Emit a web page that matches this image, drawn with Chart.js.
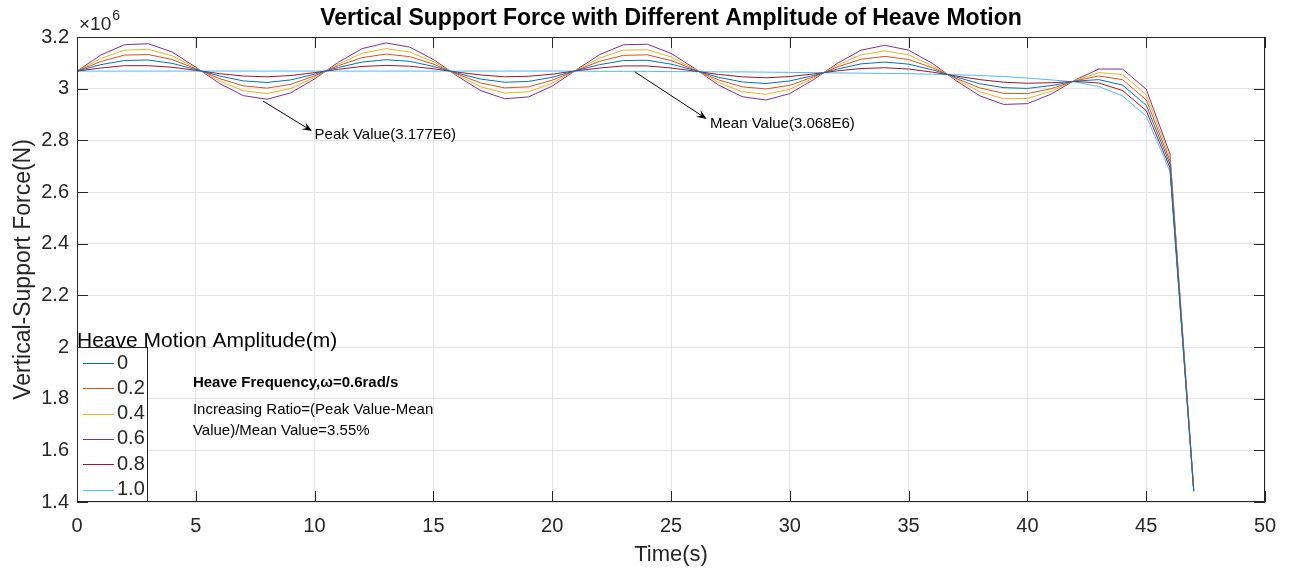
<!DOCTYPE html>
<html>
<head>
<meta charset="utf-8">
<title>Vertical Support Force</title>
<script src="https://cdn.jsdelivr.net/npm/chart.js@4.4.1/dist/chart.umd.min.js"></script>
<style>
  html, body { margin: 0; padding: 0; background: #fff; }
  #wrap { position: relative; width: 1291px; height: 569px; }
</style>
</head>
<body>
<div id="wrap"><canvas id="c" width="1291" height="569"></canvas></div>
<script>
// time samples (s)
const times = [0,1,2,3,4,5,6,7,8,9,10,11,12,13,14,15,16,17,18,19,20,21,22,23,
               24,25,26,27,28,29,30,31,32,33,34,35,36,37,38,39,40,41,42,43,44,45,46,47];

// vertical support force, x10^6 N
const force0 = [3.068,3.093,3.109,3.111,3.098,3.074,3.049,3.030,3.024,3.034,3.056,3.082,3.103,3.112,3.106,3.086,
                3.060,3.037,3.025,3.028,3.044,3.070,3.093,3.109,3.110,3.095,3.071,3.044,3.026,3.020,3.030,3.051,
                3.076,3.096,3.103,3.095,3.073,3.045,3.019,3.004,3.001,3.012,3.029,3.035,3.014,2.936,2.708,1.443];
const force02 = [3.068,3.105,3.130,3.132,3.113,3.077,3.039,3.011,3.002,3.017,3.050,3.089,3.120,3.134,3.124,3.095,
                 3.057,3.022,3.003,3.007,3.033,3.070,3.106,3.129,3.131,3.109,3.073,3.034,3.007,2.999,3.013,3.046,
                 3.084,3.114,3.125,3.113,3.081,3.040,3.003,2.982,2.981,3.000,3.030,3.049,3.035,2.957,2.721,1.445];
const force04 = [3.068,3.117,3.149,3.153,3.127,3.080,3.030,2.992,2.981,3.001,3.044,3.095,3.137,3.155,3.142,3.104,
                 3.053,3.007,2.983,2.988,3.021,3.071,3.119,3.149,3.151,3.123,3.075,3.024,2.988,2.978,2.998,3.041,
                 3.091,3.131,3.146,3.131,3.089,3.036,2.988,2.961,2.962,2.990,3.032,3.062,3.055,2.977,2.734,1.447];
const force06 = [3.068,3.130,3.170,3.174,3.142,3.083,3.020,2.973,2.959,2.984,3.038,3.102,3.155,3.177,3.161,3.113,
                 3.049,2.992,2.961,2.968,3.010,3.072,3.132,3.170,3.172,3.137,3.078,3.014,2.969,2.956,2.981,3.035,
                 3.098,3.149,3.168,3.149,3.098,3.031,2.972,2.939,2.942,2.979,3.033,3.076,3.076,2.998,2.748,1.448];
const force08 = [3.068,3.080,3.089,3.089,3.083,3.071,3.058,3.049,3.046,3.051,3.062,3.075,3.086,3.090,3.087,3.077,
                 3.064,3.053,3.046,3.048,3.056,3.069,3.080,3.088,3.088,3.080,3.068,3.055,3.046,3.042,3.047,3.057,
                 3.069,3.078,3.081,3.076,3.064,3.049,3.035,3.025,3.021,3.023,3.028,3.022,2.993,2.915,2.694,1.442];
const force10 = [3.068,3.068,3.068,3.068,3.068,3.068,3.068,3.068,3.068,3.068,3.068,3.068,3.068,3.068,3.068,3.068,
                 3.068,3.068,3.068,3.068,3.068,3.068,3.067,3.067,3.067,3.066,3.066,3.065,3.065,3.064,3.063,3.062,
                 3.061,3.060,3.059,3.058,3.056,3.054,3.051,3.047,3.041,3.034,3.026,3.008,2.972,2.894,2.680,1.440];

const amplitudes = ['0', '0.2', '0.4', '0.6', '0.8', '1.0'];
const xTicks = [0, 5, 10, 15, 20, 25, 30, 35, 40, 45, 50];
const yTicks = [1.4, 1.6, 1.8, 2, 2.2, 2.4, 2.6, 2.8, 3, 3.2];

const FONT = "'Liberation Sans', Arial, Helvetica, sans-serif";
const AX = '#262626';
const TICK = 11;

const series = [force0, force02, force04, force06, force08, force10];
const colors = ['#0072BD', '#D95319', '#EDB120', '#7E2F8E', '#A2142F', '#4DBEEE'];

// MATLAB-like box with inward ticks on every side
const matlabFrame = {
  id: 'matlabFrame',
  afterDatasetsDraw(chart) {
    const { ctx, chartArea: a, scales: { x, y } } = chart;
    ctx.save();
    ctx.strokeStyle = AX;
    ctx.lineWidth = 1;
    ctx.strokeRect(a.left + 0.5, a.top + 0.5, a.right - a.left - 1, a.bottom - a.top - 1);
    ctx.beginPath();
    xTicks.forEach(v => {
      const px = Math.round(x.getPixelForValue(v)) + 0.5;
      ctx.moveTo(px, a.bottom); ctx.lineTo(px, a.bottom - TICK);
      ctx.moveTo(px, a.top); ctx.lineTo(px, a.top + TICK);
    });
    yTicks.forEach(v => {
      const py = Math.round(y.getPixelForValue(v)) + 0.5;
      ctx.moveTo(a.left, py); ctx.lineTo(a.left + TICK, py);
      ctx.moveTo(a.right, py); ctx.lineTo(a.right - TICK, py);
    });
    ctx.stroke();
    ctx.restore();
  }
};

function arrow(ctx, x0, y0, x1, y1) {
  const ang = Math.atan2(y1 - y0, x1 - x0);
  const len = 10, half = 4;
  ctx.beginPath();
  ctx.moveTo(x0, y0);
  ctx.lineTo(x1 - Math.cos(ang) * 6, y1 - Math.sin(ang) * 6);
  ctx.stroke();
  ctx.beginPath();
  ctx.moveTo(x1, y1);
  ctx.lineTo(x1 - len * Math.cos(ang) + half * Math.sin(ang), y1 - len * Math.sin(ang) - half * Math.cos(ang));
  ctx.lineTo(x1 - 6 * Math.cos(ang), y1 - 6 * Math.sin(ang));
  ctx.lineTo(x1 - len * Math.cos(ang) - half * Math.sin(ang), y1 - len * Math.sin(ang) + half * Math.cos(ang));
  ctx.closePath();
  ctx.fill();
}

// titles, exponent, annotations and the legend box
const decorations = {
  id: 'decorations',
  afterDraw(chart) {
    const { ctx, chartArea: a, scales: { x, y } } = chart;
    const cx = (a.left + a.right) / 2;
    ctx.save();
    ctx.fillStyle = '#000';
    ctx.textBaseline = 'alphabetic';

    ctx.textAlign = 'center';
    ctx.font = 'bold 23px ' + FONT;
    ctx.fillText('Vertical Support Force with Different Amplitude of Heave Motion', cx, 25);

    ctx.fillStyle = AX;
    ctx.font = '22px ' + FONT;
    ctx.fillText('Time(s)', cx, 561);
    ctx.save();
    ctx.translate(30, (a.top + a.bottom) / 2);
    ctx.rotate(-Math.PI / 2);
    ctx.font = '23px ' + FONT;
    ctx.fillText('Vertical-Support Force(N)', 0, 0);
    ctx.restore();

    ctx.textAlign = 'left';
    ctx.font = '19px ' + FONT;
    ctx.fillText('\u00d710', 79, 30);
    const w = ctx.measureText('\u00d710').width;
    ctx.font = '14px ' + FONT;
    ctx.fillText('6', 80 + w, 20);

    // arrows with value notes
    ctx.fillStyle = '#000';
    ctx.strokeStyle = '#000';
    ctx.lineWidth = 1;
    ctx.font = '15px ' + FONT;
    ctx.textBaseline = 'middle';
    const notes = [
      { from: [7.83, 2.952], to: [9.89, 2.836], at: [10.0, 2.821], text: 'Peak Value(3.177E6)' },
      { from: [23.48, 3.065], to: [26.5, 2.883], at: [26.64, 2.863], text: 'Mean Value(3.068E6)' }
    ];
    notes.forEach(n => {
      arrow(ctx, x.getPixelForValue(n.from[0]), y.getPixelForValue(n.from[1]),
                 x.getPixelForValue(n.to[0]), y.getPixelForValue(n.to[1]));
      ctx.fillText(n.text, x.getPixelForValue(n.at[0]), y.getPixelForValue(n.at[1]));
    });

    const tx = x.getPixelForValue(4.88);
    ctx.font = 'bold 15px ' + FONT;
    ctx.fillText('Heave Frequency,\u03c9=0.6rad/s', tx, y.getPixelForValue(1.861));
    ctx.font = '15px ' + FONT;
    ctx.fillText('Increasing Ratio=(Peak Value-Mean', tx, y.getPixelForValue(1.756));
    ctx.fillText('Value)/Mean Value=3.55%', tx, y.getPixelForValue(1.675));

    // legend
    const lx = a.left, ly = 347, lw = 71, lh = a.bottom - ly;
    ctx.fillStyle = '#fff';
    ctx.fillRect(lx, ly, lw, lh);
    ctx.strokeStyle = AX;
    ctx.strokeRect(lx + 0.5, ly + 0.5, lw - 1, lh - 1);
    ctx.fillStyle = '#000';
    ctx.textBaseline = 'alphabetic';
    ctx.font = '21px ' + FONT;
    ctx.fillText('Heave Motion Amplitude(m)', lx, ly);
    ctx.textBaseline = 'middle';
    ctx.font = '20px ' + FONT;
    chart.data.datasets.forEach((ds, i) => {
      const ry = ly + 16 + i * 25.3;
      ctx.strokeStyle = ds.borderColor;
      ctx.beginPath();
      ctx.moveTo(lx + 6, Math.round(ry) + 0.5);
      ctx.lineTo(lx + 37, Math.round(ry) + 0.5);
      ctx.stroke();
      ctx.fillStyle = AX;
      ctx.fillText(ds.label, lx + 40, ry);
    });
    ctx.restore();
  }
};

new Chart(document.getElementById('c'), {
  type: 'line',
  data: {
    datasets: series.map((vals, i) => ({
      label: amplitudes[i],
      data: times.map((t, k) => ({ x: t, y: vals[k] })),
      borderColor: colors[i],
      borderWidth: 1,
      pointRadius: 0,
      tension: 0,
      fill: false
    }))
  },
  options: {
    responsive: false,
    animation: false,
    events: [],
    layout: { padding: { top: 37, right: 26, left: 0, bottom: 0 } },
    plugins: { legend: { display: false }, title: { display: false }, tooltip: { enabled: false } },
    scales: {
      x: {
        type: 'linear', min: 0, max: 50,
        afterBuildTicks: s => { s.ticks = xTicks.map(v => ({ value: v })); },
        afterFit: s => { s.height = 67; },
        grid: { color: '#e4e4e4', drawTicks: false },
        border: { display: false },
        ticks: { padding: 12, color: AX, font: { family: FONT, size: 20 }, maxRotation: 0, callback: v => String(v) }
      },
      y: {
        type: 'linear', min: 1.4, max: 3.2,
        afterBuildTicks: s => { s.ticks = yTicks.map(v => ({ value: v })); },
        afterFit: s => { s.width = 77; },
        grid: { color: '#e4e4e4', drawTicks: false },
        border: { display: false },
        ticks: { padding: 8, color: AX, font: { family: FONT, size: 20 }, callback: v => String(v) }
      }
    }
  },
  plugins: [matlabFrame, decorations]
});
</script>
</body>
</html>
